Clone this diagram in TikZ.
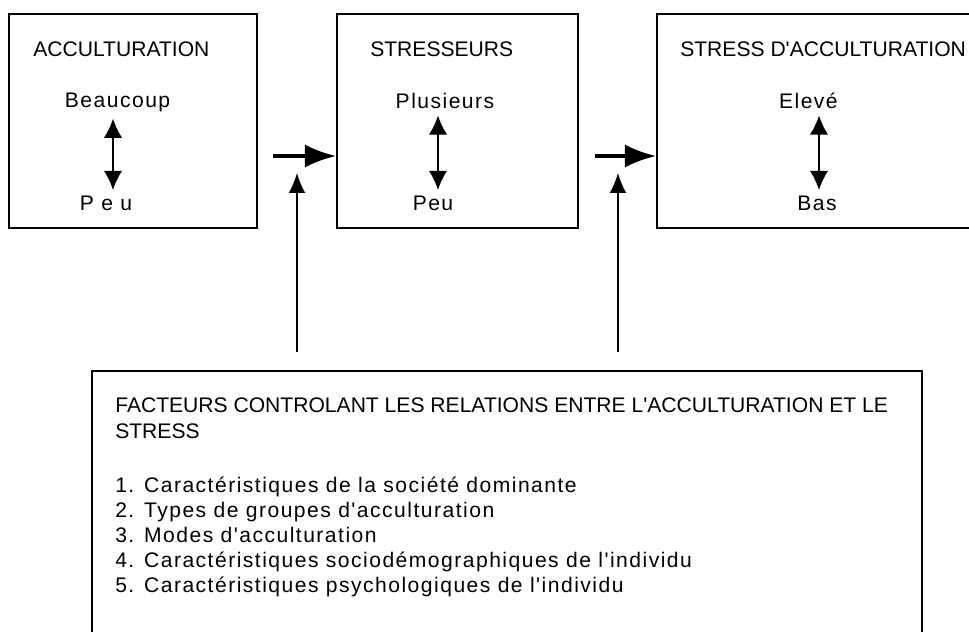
\documentclass[tikz,border=0pt]{standalone}
\usepackage{fontspec}
\setmainfont{Liberation Sans}
\newfontfamily\plainfont{Liberation Sans}
\newfontfamily\spacedfont[LetterSpace=7]{Liberation Sans}
\usetikzlibrary{arrows.meta}

\tikzset{
    box/.style={draw, line width=1.4pt, inner sep=0pt},
    boxtitle/.style={font=\plainfont\fontsize{15}{18}\selectfont, inner sep=0pt},
    boxword/.style={font=\spacedfont\fontsize{15}{18}\selectfont, inner sep=0.15cm, anchor=base},
    itemtext/.style={font=\spacedfont\fontsize{15}{18}\selectfont, inner sep=0pt, anchor=base west},
    bigarrow/.style={-{Latex[length=0.78cm,width=0.58cm]}, line width=2.4pt},
    uparrow/.style={-{Latex[length=0.5cm,width=0.42cm]}, line width=1pt},
    dblarrow/.style={{Latex[length=0.48cm,width=0.46cm]}-{Latex[length=0.48cm,width=0.46cm]}, line width=1.2pt}
}

\begin{document}
\begin{tikzpicture}
    \clip (0,0) rectangle (24.225,-15.8);

    % Acculturation
    \node[box, minimum width=6.2cm, minimum height=5.35cm] (accult) at (3.325,-3.025) {};
    \node[boxtitle, anchor=base west] (accultitle) at (0.825,-1.425) {ACCULTURATION};
    \node[boxword] (beaucoup) at (2.94,-2.7) {Beaucoup};
    \node[boxword] (peuA) at (2.65,-5.27) {P e u};
    \coordinate (arrA) at (2.825,0);
    \draw[dblarrow] (arrA |- beaucoup.south) -- (arrA |- peuA.north);

    % Stresseurs
    \node[box, minimum width=6.025cm, minimum height=5.35cm] (stress) at (11.4375,-3.025) {};
    \node[boxtitle, anchor=base west] (stresstitle) at (9.25,-1.425) {STRESSEURS};
    \node[boxword] (plusieurs) at (11.125,-2.725) {Plusieurs};
    \node[boxword] (peuB) at (10.825,-5.27) {Peu};
    \coordinate (arrB) at (10.95,0);
    \draw[dblarrow] (arrB |- plusieurs.south) -- (arrB |- peuB.north);

    % Stress d'acculturation
    \node[box, minimum width=8.575cm, minimum height=5.35cm] (stressacc) at (20.7125,-3.025) {};
    \node[boxtitle, anchor=base west] (stressacctitle) at (17.0,-1.425) {STRESS D'ACCULTURATION};
    \node[boxword] (eleve) at (20.21,-2.725) {Elevé};
    \node[boxword] (bas) at (20.425,-5.27) {Bas};
    \coordinate (arrC) at (20.475,0);
    \draw[dblarrow] (arrC |- eleve.south) -- (arrC |- bas.north);

    % links between the boxes
    \coordinate (inB) at (6.825,-3.9);
    \coordinate (inC) at (14.875,-3.9);
    \draw[bigarrow] (inB) -- (inB -| stress.west);
    \draw[bigarrow] (inC) -- (inC -| stressacc.west);

    % Facteurs
    \node[box, minimum width=20.75cm, minimum height=7.225cm] (facteurs) at (12.675,-12.8875) {};
    \node[boxtitle, anchor=base west] (factitle) at (2.875,-10.3) {FACTEURS CONTROLANT LES RELATIONS ENTRE L'ACCULTURATION ET LE};
    \node[boxtitle, anchor=base west] (factitlebis) at (2.875,-10.95) {STRESS};
    \node[itemtext] (item1) at (2.875,-12.3) {1. Caractéristiques de la société dominante};
    \node[itemtext] (item2) at (2.875,-12.925) {2. Types de groupes d'acculturation};
    \node[itemtext] (item3) at (2.875,-13.55) {3. Modes d'acculturation};
    \node[itemtext] (item4) at (2.875,-14.175) {4. Caractéristiques sociodémographiques de l'individu};
    \node[itemtext] (item5) at (2.875,-14.8) {5. Caractéristiques psychologiques de l'individu};

    % control arrows
    \coordinate (ctlB) at (7.425,-8.8);
    \coordinate (tipB) at (7.425,-4.325);
    \coordinate (ctlC) at (15.45,-8.8);
    \coordinate (tipC) at (15.45,-4.325);
    \draw[uparrow] (ctlB) -- (tipB);
    \draw[uparrow] (ctlC) -- (tipC);
\end{tikzpicture}
\end{document}
